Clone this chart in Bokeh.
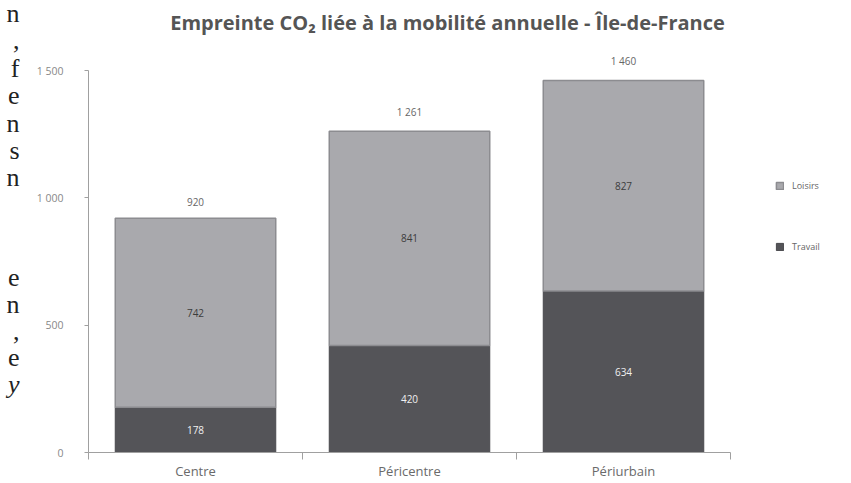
from bokeh.plotting import figure
from bokeh.layouts import row
from bokeh.models import (Range1d, LinearAxis, FixedTicker, Legend,
                          LegendItem, Label, ColumnDataSource)
from bokeh.core.properties import value
from bokeh.embed import file_html
from bokeh.resources import INLINE

# ---- data ----
categories = ["Centre", "Péricentre", "Périurbain"]
travail = [178, 420, 634]
loisirs = [742, 841, 827]
travail_labels = ["178", "420", "634"]
loisirs_labels = ["742", "841", "827"]
total_labels = ["920", "1 261", "1 460"]
y_ticks = [0, 500, 1000, 1500]
y_tick_labels = ["0", "500", "1 000", "1 500"]
series_names = ["Loisirs", "Travail"]
title_text = "Empreinte CO₂ liée à la mobilité annuelle - Île-de-France"
# fragments of the surrounding document text visible at the left edge
side_chars = ["n", ",", "f", "e", "n", "s", "n", "e", "n", ",", "e", "y"]
side_styles = ["normal"] * 11 + ["italic"]
side_baselines = [14, 43, 73, 102, 131, 160, 189, 296, 325, 354, 382, 410]

FONT = "Open Sans"
H = 483
SIDE_W = 30
W = 851 - SIDE_W
AXIS_X = 88                      # page x of the y axis
LEFT = AXIS_X - SIDE_W
BOTTOM = 31
FRAME_H = H - BOTTOM
FRAME_W = W - LEFT
PX_PER_UNIT = 382 / 1500
Y_END = FRAME_H / PX_PER_UNIT
CAT_PX = 214
X_END = FRAME_W / CAT_PX

LIGHT = "#a9a9ad"
DARK = "#545458"

n = len(categories)
centres = [i + 0.5 for i in range(n)]

# ---- side strip with text fragments ----
side = figure(width=SIDE_W, height=H, x_range=Range1d(0, SIDE_W), y_range=Range1d(H, 0),
              output_backend="svg", toolbar_location=None,
              x_axis_location=None, y_axis_location=None,
              min_border=0)
side.outline_line_color = None
side.grid.visible = False
side_src = ColumnDataSource(dict(x=[19] * len(side_chars), y=side_baselines,
                                 t=side_chars, st=side_styles))
side.text(x="x", y="y", text="t", source=side_src, text_align="right",
          text_baseline="alphabetic", text_font=value("Liberation Serif"),
          text_font_size="26px", text_font_style="st", text_color="#222222")

# ---- main chart ----
p = figure(width=W, height=H,
           x_range=Range1d(0, X_END),
           y_range=Range1d(0, Y_END),
           output_backend="svg", toolbar_location=None,
           x_axis_location=None,
           min_border_left=LEFT, min_border_right=0,
           min_border_top=0, min_border_bottom=BOTTOM)
p.outline_line_color = None
p.xgrid.grid_line_color = None
p.ygrid.grid_line_color = None

src = ColumnDataSource(dict(
    x=centres, cat=categories, travail=travail, loisirs=loisirs,
    total=[a + b for a, b in zip(travail, loisirs)],
    mid_t=[a / 2 for a in travail],
    mid_l=[a + b / 2 for a, b in zip(travail, loisirs)],
    t_lab=travail_labels, l_lab=loisirs_labels, tot_lab=total_labels,
))

r_t = p.vbar(x="x", bottom=0, top="travail", width=0.75, source=src,
             fill_color=DARK, line_color="#48484c", line_width=1)
r_l = p.vbar(x="x", bottom="travail", top="total", width=0.75, source=src,
             fill_color=LIGHT, line_color="#8c8c90", line_width=1.5)

p.text(x="x", y="mid_t", text="t_lab", source=src, text_align="center",
       text_baseline="middle", text_font=value(FONT), text_font_size="10px",
       text_color="#f0f0f0")
p.text(x="x", y="mid_l", text="l_lab", source=src, text_align="center",
       text_baseline="middle", text_font=value(FONT), text_font_size="10px",
       text_color="#3c3c3c")
p.text(x="x", y="total", text="tot_lab", source=src, text_align="center",
       text_baseline="bottom", y_offset=-12, text_font=value(FONT),
       text_font_size="10px", text_color="#666666")

# y axis
ya = p.yaxis[0]
ya.ticker = FixedTicker(ticks=y_ticks, minor_ticks=[])
ya.major_label_overrides = {t: l for t, l in zip(y_ticks, y_tick_labels)}
ya.bounds = (0, 1500)
ya.axis_line_color = "#a0a0a0"
ya.major_tick_line_color = "#a0a0a0"
ya.major_tick_in = 0
ya.major_tick_out = 4
ya.minor_tick_line_color = None
ya.major_label_standoff = 21
ya.major_label_text_font = FONT
ya.major_label_text_font_size = "10.5px"
ya.major_label_text_color = "#888888"

# x axis: labels at category centres, ticks at category boundaries
xa = LinearAxis(ticker=FixedTicker(ticks=centres, minor_ticks=list(range(n + 1))),
                major_label_overrides={c: name for c, name in zip(centres, categories)},
                bounds=(0, n))
xa.axis_line_color = "#a0a0a0"
xa.major_tick_line_color = None
xa.major_tick_in = 0
xa.major_tick_out = 0
xa.minor_tick_line_color = "#a0a0a0"
xa.minor_tick_in = 0
xa.minor_tick_out = 7
xa.major_label_standoff = 2
xa.major_label_text_font = FONT
xa.major_label_text_font_size = "13px"
xa.major_label_text_color = "#6a6a6a"
p.add_layout(xa, "below")

# legend (inside the frame, right of the bars)
legend = Legend(items=[LegendItem(label=series_names[0], renderers=[r_l]),
                       LegendItem(label=series_names[1], renderers=[r_t])],
                location=(775 - AXIS_X, FRAME_H - 253), orientation="vertical",
                glyph_width=9, glyph_height=9, label_height=9, spacing=48,
                label_standoff=8, padding=0, margin=0,
                border_line_color=None, background_fill_alpha=0,
                label_text_font=FONT, label_text_font_size="9px",
                label_text_color="#666666")
p.add_layout(legend, "center")

# title
p.add_layout(Label(x=447 - AXIS_X, y=FRAME_H - 22, x_units="screen", y_units="screen",
                   text=title_text, text_align="center", text_baseline="middle",
                   text_font=FONT, text_font_size="20px", text_font_style="bold",
                   text_color="#555555"))

open("out.html", "w").write(file_html(row(side, p), INLINE))
